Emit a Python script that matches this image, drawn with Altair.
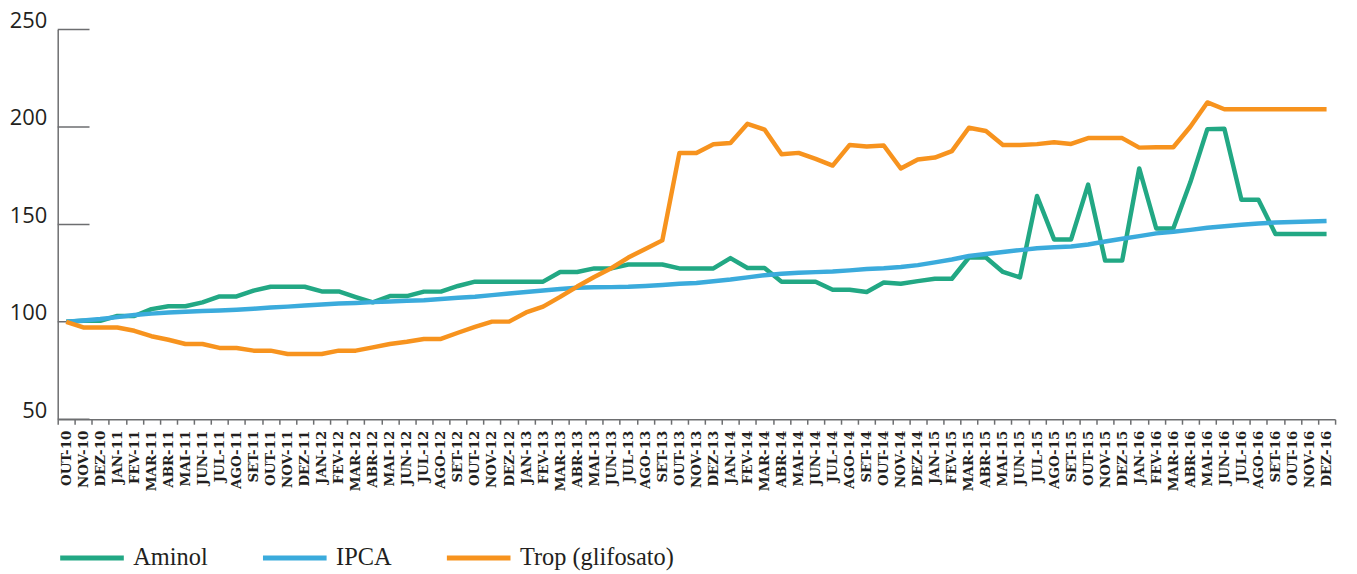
import altair as alt
import pandas as pd

months = [
    "OUT-10", "NOV-10", "DEZ-10",
    "JAN-11", "FEV-11", "MAR-11", "ABR-11", "MAI-11", "JUN-11", "JUL-11", "AGO-11", "SET-11", "OUT-11", "NOV-11", "DEZ-11",
    "JAN-12", "FEV-12", "MAR-12", "ABR-12", "MAI-12", "JUN-12", "JUL-12", "AGO-12", "SET-12", "OUT-12", "NOV-12", "DEZ-12",
    "JAN-13", "FEV-13", "MAR-13", "ABR-13", "MAI-13", "JUN-13", "JUL-13", "AGO-13", "SET-13", "OUT-13", "NOV-13", "DEZ-13",
    "JAN-14", "FEV-14", "MAR-14", "ABR-14", "MAI-14", "JUN-14", "JUL-14", "AGO-14", "SET-14", "OUT-14", "NOV-14", "DEZ-14",
    "JAN-15", "FEV-15", "MAR-15", "ABR-15", "MAI-15", "JUN-15", "JUL-15", "AGO-15", "SET-15", "OUT-15", "NOV-15", "DEZ-15",
    "JAN-16", "FEV-16", "MAR-16", "ABR-16", "MAI-16", "JUN-16", "JUL-16", "AGO-16", "SET-16", "OUT-16", "NOV-16", "DEZ-16",
]

aminol = [
    100, 100.5, 100.5, 103, 103, 106.5, 108, 108, 110, 113, 113, 116, 118, 118, 118,
    115.6, 115.6, 112.7, 110, 113.2, 113.2, 115.5, 115.5, 118.4, 120.6, 120.6, 120.6,
    120.6, 120.6, 125.6, 125.6, 127.4, 127.4, 129.4, 129.4, 129.4, 127.4, 127.4, 127.4,
    132.7, 127.6, 127.6, 120.6, 120.6, 120.6, 116.5, 116.5, 115.3, 120.2, 119.5, 120.9,
    122.1, 122.1, 133, 133, 125.6, 122.8, 164.6, 142.3, 142.3, 170.4, 131.4, 131.4,
    178.7, 147.9, 147.9, 171.6, 198.9, 199.1, 162.7, 162.7, 145.1, 145.1, 145.1, 145.1,
]

ipca = [
    100, 100.7, 101.4, 102.4, 103.5, 104.2, 104.8, 105.2, 105.5, 105.8, 106.2, 106.7,
    107.3, 107.8, 108.4, 108.9, 109.4, 109.7, 110.1, 110.4, 110.8, 111.1, 111.7, 112.3,
    112.9, 113.7, 114.5, 115.3, 116.1, 116.8, 117.5, 117.7, 117.8, 118, 118.4, 118.9,
    119.5, 119.9, 120.8, 121.7, 122.8, 123.9, 124.7, 125.2, 125.5, 125.8, 126.4, 127.1,
    127.5, 128.1, 129.1, 130.5, 132, 133.8, 134.8, 135.8, 136.8, 137.8, 138.3, 138.7,
    139.7, 141.2, 142.6, 144, 145.4, 146.2, 147.2, 148.3, 149, 149.8, 150.5, 151,
    151.2, 151.5, 151.8,
]

trop = [
    100, 97.1, 97.1, 97.1, 95.4, 92.6, 90.8, 88.6, 88.6, 86.6, 86.6, 85.2, 85.2,
    83.5, 83.5, 83.5, 85.2, 85.2, 86.9, 88.6, 89.8, 91.2, 91.2, 94.4, 97.4, 100.1,
    100.1, 104.8, 107.8, 112.8, 118.1, 123, 127.5, 133, 137.4, 141.8, 186.6, 186.6,
    191.1, 191.8, 201.6, 198.7, 186, 186.7, 183.6, 180.2, 190.8, 190, 190.5, 178.7,
    183.3, 184.3, 187.6, 199.6, 197.9, 190.8, 190.8, 191.2, 192.2, 191.3, 194.3, 194.3,
    194.3, 189.4, 189.6, 189.6, 200.1, 212.6, 209.1, 209.1, 209.1, 209.1, 209.1, 209.1,
    209.1,
]

series_names = ["Aminol", "IPCA", "Trop (glifosato)"]
series_colors = ["#22A884", "#3BABDC", "#F7931E"]
y_ticks = [50, 100, 150, 200, 250]

rows = []
for name, vals in zip(series_names, [aminol, ipca, trop]):
    for m, v in zip(months, vals):
        rows.append({"month": m, "value": v, "serie": name})
df = pd.DataFrame(rows)
ticks_df = pd.DataFrame({"value": y_ticks})

axis_gray = "#6d6e70"
text_dark = "#231f20"

y_scale = alt.Scale(domain=[50, 250], nice=False, zero=False)

lines = alt.Chart(df).mark_line(strokeWidth=4.5, strokeJoin="round").encode(
    x=alt.X(
        "month:O",
        sort=months,
        bandPosition=0.5,
        scale=alt.Scale(type="band", paddingInner=0, paddingOuter=0),
        axis=alt.Axis(
            title=None,
            labelAngle=270,
            labelFont="DejaVu Serif",
            labelFontSize=13.5,
            labelFontWeight="bold",
            labelColor=text_dark,
            labelPadding=6,
            tickBand="extent",
            tickSize=5,
            tickColor=axis_gray,
            tickWidth=1.5,
            domainColor=axis_gray,
            domainWidth=1.5,
            grid=False,
        ),
    ),
    y=alt.Y(
        "value:Q",
        scale=y_scale,
        axis=alt.Axis(
            title=None,
            values=y_ticks,
            ticks=False,
            grid=False,
            labelFont="Open Sans",
            labelFontSize=22,
            labelColor=text_dark,
            labelPadding=11,
            labelBaseline="alphabetic",
            labelOffset=-2,
            domainColor=axis_gray,
            domainWidth=1.5,
        ),
    ),
    color=alt.Color(
        "serie:N",
        sort=series_names,
        scale=alt.Scale(domain=series_names, range=series_colors),
        legend=alt.Legend(
            title=None,
            orient="none",
            legendX=0,
            legendY=497,
            direction="horizontal",
            symbolType="stroke",
            symbolSize=4096,
            symbolStrokeWidth=5,
            labelFont="Liberation Serif",
            labelFontSize=24.5,
            labelColor=text_dark,
            labelOffset=7,
            columnPadding=45,
            padding=0,
        ),
    ),
    order=alt.Order("serie:N"),
)

tick_rules = alt.Chart(ticks_df).mark_rule(color=axis_gray, strokeWidth=1.5).encode(
    y=alt.Y("value:Q", scale=y_scale),
    x=alt.value(0),
    x2=alt.value(32),
)

chart = alt.layer(tick_rules, lines).properties(
    width=1285,
    height=392,
    autosize=alt.AutoSizeParams(type="none"),
    padding={"left": 50, "top": 20, "right": 14, "bottom": 154},
).configure_view(stroke=None)

chart.save("out.html", embed_options={"renderer": "svg", "actions": False})
